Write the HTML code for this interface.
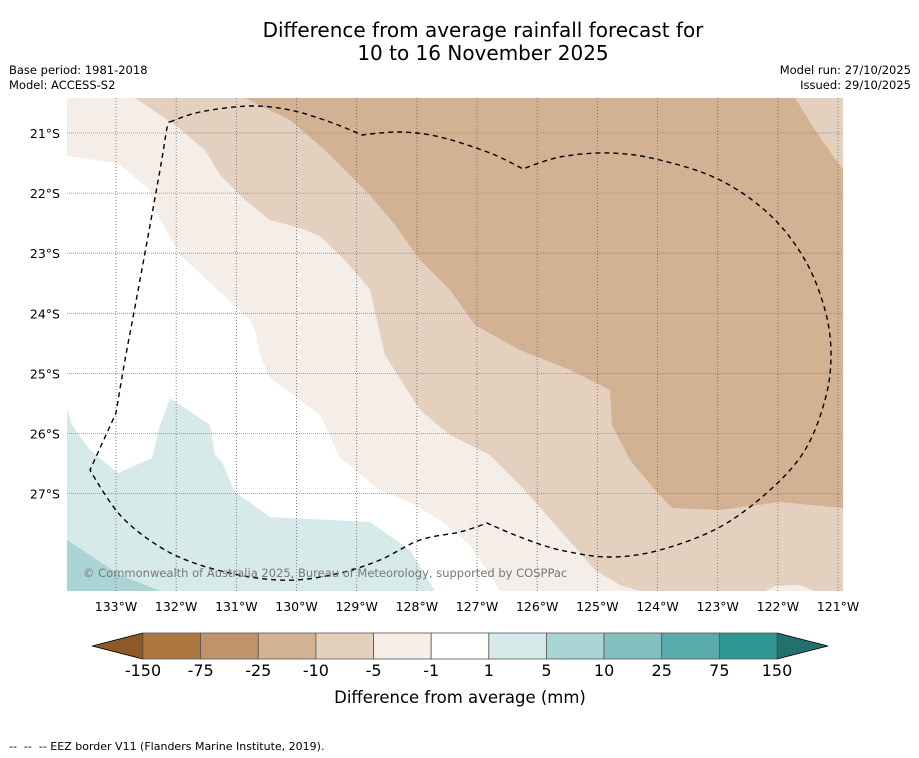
<!DOCTYPE html>
<html><head><meta charset="utf-8">
<style>
body{margin:0;background:#fff;font-family:"DejaVu Sans","Liberation Sans",sans-serif;}
#wrap{position:relative;width:919px;height:758px;overflow:hidden;}
.t{position:absolute;white-space:nowrap;color:#000;}
</style></head>
<body>
<div id="wrap">
<div class="t" style="left:0;width:966px;text-align:center;top:19px;font-size:20px;line-height:23px;">Difference from average rainfall forecast for<br>10 to 16 November 2025</div>
<div class="t" style="left:9px;top:63px;font-size:11.5px;line-height:15px;">Base period: 1981-2018<br>Model: ACCESS-S2</div>
<div class="t" style="right:8px;top:63px;font-size:11.5px;line-height:15px;text-align:right;">Model run: 27/10/2025<br>Issued: 29/10/2025</div>
<svg id="svg" width="919" height="758" style="position:absolute;left:0;top:0">
<defs><clipPath id="clip"><rect x="67" y="98" width="776" height="493"/></clipPath></defs>
<g clip-path="url(#clip)">
<rect x="67" y="98" width="776" height="493" fill="#ffffff"/>
<polygon fill="#f5ede8" points="67,98 843,98 843,591 500,591 490,575 470,545 440,520 415,505 380,490 340,458 320,415 300,400 270,378 260,355 255,330 250,320 205,278 180,255 155,210 150,190 120,165 115,163 67,156"/>
<polygon fill="#e3d0bf" points="135,98 843,98 843,591 640,591 620,585 595,570 560,530 520,485 490,455 450,435 420,410 385,355 370,290 345,260 320,236 300,228 270,220 245,200 220,175 205,150 175,125"/>
<polygon fill="#f5ede8" points="765,591 775,586 800,585 815,591"/>
<polygon fill="#d2b293" points="245,98 795,98 815,130 843,170 843,508 780,502 720,510 672,508 655,490 630,460 612,425 610,390 570,370 520,350 475,325 450,290 420,260 395,225 370,195 355,180 325,150 290,120"/>
<polygon fill="#d6ebe9" points="67,408 72,425 90,450 118,473 152,458 160,425 170,398 210,425 215,455 222,462 235,492 270,517 370,522 410,550 435,591 67,591"/>
<polygon fill="#aad5d4" points="67,540 90,555 120,575 160,591 67,591"/>
<g id="grid"></g>
<path id="eez" fill="none" stroke="#000" stroke-width="1.4" stroke-dasharray="5,4"/>
<text x="83" y="577" font-size="11.5" fill="#777" font-family="DejaVu Sans, Liberation Sans, sans-serif">© Commonwealth of Australia 2025, Bureau of Meteorology, supported by COSPPac</text>
</g>
<g id="axes"></g>
<g id="cbar"></g>
<text x="460" y="703" text-anchor="middle" font-size="16.5" font-family="DejaVu Sans, Liberation Sans, sans-serif">Difference from average (mm)</text>
</svg>
<div class="t" style="left:9px;top:740px;font-size:11px;">--&nbsp; --&nbsp; -- EEZ border V11 (Flanders Marine Institute, 2019).</div>
</div>
<script>
const lonTicks=[133,132,131,130,129,128,127,126,125,124,123,122,121];
const latTicks=[21,22,23,24,25,26,27];
const cbarLabels=["-150","-75","-25","-10","-5","-1","1","5","10","25","75","150"];
const cbarColors=["#ad7840","#c0946a","#d2b293","#e3d0bf","#f5ede8","#ffffff","#d6ebe9","#aad5d4","#82c1bf","#5aabab","#2e9794"];
const NS="http://www.w3.org/2000/svg";
function xLon(l){return 116+(133-l)*60.17;}
function yLat(l){return 133+(l-21)*60.1;}
function mk(t,a,p){const e=document.createElementNS(NS,t);for(const k in a)e.setAttribute(k,a[k]);p.appendChild(e);return e;}
const grid=document.getElementById('grid'),axes=document.getElementById('axes'),cb=document.getElementById('cbar');
// EEZ border smoothed (corners kept at a few vertices)
const eezPts=[[170,122],[200,112],[250,106],[290,110],[330,122],[362,135],[400,132],[440,137],[490,153],[523,169],[560,157],[610,153],[660,160],[720,180],[770,215],[805,260],[825,310],[831,355],[825,400],[805,450],[770,490],[720,527],[660,550],[610,557],[560,550],[520,537],[487,523],[460,532],[420,540],[380,560],[340,573],[295,580],[250,577],[200,565],[160,547],[120,515],[90,470],[116,413],[125,360],[140,280],[160,170],[167,128]];
const corner=new Set([0,5,9,26,36,37]);
(function(){let d='M'+eezPts[0];const n=eezPts.length;
 for(let i=0;i<n;i++){const p0=eezPts[(i-1+n)%n],p1=eezPts[i],p2=eezPts[(i+1)%n],p3=eezPts[(i+2)%n];
  const k1=corner.has(i)?0:1/6,k2=corner.has((i+1)%n)?0:1/6;
  const c1=[p1[0]+(p2[0]-p0[0])*k1,p1[1]+(p2[1]-p0[1])*k1],c2=[p2[0]-(p3[0]-p1[0])*k2,p2[1]-(p3[1]-p1[1])*k2];
  d+=` C${c1} ${c2} ${p2}`;}
 document.getElementById('eez').setAttribute('d',d);})();
lonTicks.forEach(l=>{const x=xLon(l);
 const ln=mk('line',{x1:x,x2:x,y1:98,y2:591,stroke:'#666','stroke-width':0.8,'stroke-dasharray':'1,2'},grid);
 
 
 const t=mk('text',{x:x,y:611,'text-anchor':'middle','font-size':12.5,'font-family':'DejaVu Sans, Liberation Sans, sans-serif'},axes);
 t.textContent=l+'°W';
 
 
});
latTicks.forEach(l=>{const y=yLat(l);
 const ln=mk('line',{x1:67,x2:843,y1:y,y2:y,stroke:'#888','stroke-width':0.8,'stroke-dasharray':'1,1'},grid);
 
 
 const t=mk('text',{x:60,y:y+5,'text-anchor':'end','font-size':12.5,'font-family':'DejaVu Sans, Liberation Sans, sans-serif'},axes);
 t.textContent=l+'°S';
 
 
});
const x0=143,x1=777,y0=633,h=26,n=cbarColors.length,w=(x1-x0)/n;
const la=mk('polygon',{points:`92,646 ${x0},${y0} ${x0},${y0+h}`,fill:'#8c5a28',stroke:'#000','stroke-width':0.8},cb);


const ra=mk('polygon',{points:`828,646 ${x1},${y0} ${x1},${y0+h}`,fill:'#23706d',stroke:'#000','stroke-width':0.8},cb);


cbarColors.forEach((c,i)=>{
 const r=mk('rect',{x:x0+i*w,y:y0,width:w,height:h,fill:c,stroke:'#555','stroke-width':0.8},cb);
 
 
});
cbarLabels.forEach((s,i)=>{
 const t=mk('text',{x:x0+i*w,y:676,'text-anchor':'middle','font-size':16,'font-family':'DejaVu Sans, Liberation Sans, sans-serif'},cb);
 t.textContent=s;
 
 
});
</script>
</body></html>
